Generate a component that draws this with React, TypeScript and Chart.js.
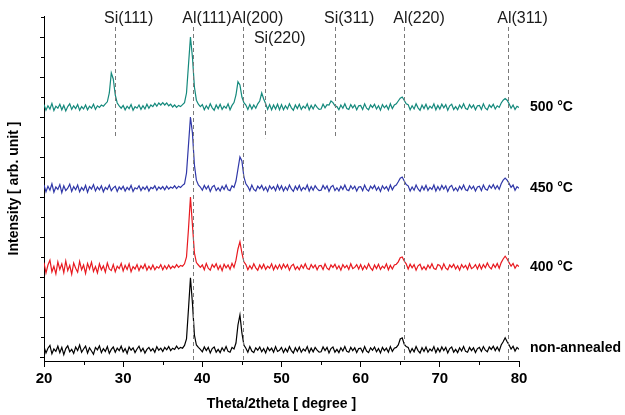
import React, { useEffect, useRef } from "react";
import { Chart, registerables } from "chart.js";
Chart.register(...registerables);

// 2theta scan: 20° to 80°, 0.25° step (241 points); one row = 5°
const twoTheta = Array.from({ length: 241 }, (_, i) => 20 + i * 0.25);

// intensities (arb. units, stacked offsets as plotted)
const nonAnnealed = [
  0.26, 0.1, 0.22, 0.29, 0.08, 0.2, 0.14, 0.27, 0.11, 0.24, 0.06, 0.21, 0.28, 0.13, 0.19, 0.09, 0.25, 0.16, 0.3, 0.12,
  0.2, 0.27, 0.1, 0.23, 0.15, 0.07, 0.24, 0.18, 0.28, 0.11, 0.21, 0.14, 0.26, 0.09, 0.19, 0.25, 0.12, 0.22, 0.16, 0.27,
  0.13, 0.21, 0.09, 0.25, 0.17, 0.23, 0.11, 0.2, 0.27, 0.14, 0.22, 0.1, 0.19, 0.24, 0.15, 0.21, 0.12, 0.26, 0.17, 0.22,
  0.14, 0.24, 0.18, 0.26, 0.16, 0.22, 0.19, 0.27, 0.2, 0.24, 0.22, 0.29, 0.45, 1.2, 1.98, 1.35, 0.55, 0.3, 0.24, 0.19,
  0.13, 0.25, 0.16, 0.24, 0.1, 0.21, 0.25, 0.12, 0.19, 0.11, 0.23, 0.15, 0.26, 0.14, 0.12, 0.24, 0.2, 0.35, 0.8, 1.05,
  0.6, 0.3, 0.22, 0.12, 0.26, 0.15, 0.11, 0.23, 0.17, 0.25, 0.13, 0.21, 0.1, 0.24, 0.16, 0.22, 0.12, 0.26, 0.14, 0.17,
  0.24, 0.11, 0.21, 0.13, 0.26, 0.16, 0.1, 0.23, 0.14, 0.25, 0.12, 0.2, 0.15, 0.26, 0.11, 0.22, 0.13, 0.24, 0.17, 0.12,
  0.13, 0.25, 0.16, 0.24, 0.1, 0.21, 0.25, 0.12, 0.19, 0.11, 0.23, 0.15, 0.26, 0.14, 0.12, 0.24, 0.16, 0.23, 0.11, 0.21,
  0.22, 0.12, 0.26, 0.15, 0.11, 0.23, 0.17, 0.25, 0.13, 0.21, 0.1, 0.24, 0.16, 0.22, 0.12, 0.26, 0.14, 0.22, 0.24, 0.3,
  0.45, 0.48, 0.32, 0.26, 0.24, 0.11, 0.21, 0.13, 0.26, 0.16, 0.1, 0.23, 0.14, 0.25, 0.12, 0.2, 0.15, 0.26, 0.11, 0.22,
  0.13, 0.25, 0.16, 0.24, 0.1, 0.21, 0.25, 0.12, 0.19, 0.11, 0.23, 0.15, 0.26, 0.14, 0.12, 0.24, 0.16, 0.23, 0.11, 0.21,
  0.24, 0.14, 0.26, 0.17, 0.13, 0.25, 0.19, 0.27, 0.16, 0.25, 0.15, 0.3, 0.38, 0.48, 0.38, 0.3, 0.2, 0.27, 0.15, 0.24,
  0.19,
];

const annealed400 = [
  2.36, 2.1, 2.3, 2.42, 2.13, 2.27, 2.08, 2.38, 2.19, 2.33, 2.11, 2.4, 2.16, 2.29, 2.07, 2.35, 2.22, 2.12, 2.39, 2.18,
  2.3, 2.09, 2.34, 2.2, 2.37, 2.14, 2.26, 2.1, 2.33, 2.18, 2.28, 2.12, 2.35, 2.2, 2.16, 2.31, 2.13, 2.27, 2.21, 2.34,
  2.15, 2.29, 2.19, 2.33, 2.13, 2.26, 2.2, 2.31, 2.16, 2.28, 2.21, 2.32, 2.17, 2.27, 2.19, 2.3, 2.18, 2.26, 2.22, 2.31,
  2.18, 2.28, 2.2, 2.3, 2.21, 2.27, 2.23, 2.31, 2.24, 2.29, 2.27, 2.33, 2.5, 3.2, 4.0, 3.3, 2.6, 2.36, 2.3, 2.24,
  2.3, 2.18, 2.34, 2.22, 2.17, 2.31, 2.24, 2.33, 2.19, 2.29, 2.16, 2.32, 2.23, 2.3, 2.19, 2.34, 2.24, 2.42, 2.7, 2.88,
  2.6, 2.38, 2.31, 2.18, 2.28, 2.2, 2.33, 2.23, 2.17, 2.3, 2.21, 2.32, 2.19, 2.27, 2.22, 2.33, 2.18, 2.29, 2.2, 2.31,
  2.2, 2.32, 2.23, 2.31, 2.17, 2.28, 2.32, 2.19, 2.26, 2.18, 2.3, 2.22, 2.33, 2.21, 2.19, 2.31, 2.23, 2.3, 2.18, 2.28,
  2.29, 2.19, 2.33, 2.22, 2.18, 2.3, 2.24, 2.32, 2.2, 2.28, 2.17, 2.31, 2.23, 2.29, 2.19, 2.33, 2.21, 2.24, 2.31, 2.2,
  2.31, 2.18, 2.28, 2.2, 2.33, 2.23, 2.17, 2.3, 2.21, 2.32, 2.19, 2.27, 2.22, 2.33, 2.18, 2.29, 2.2, 2.3, 2.32, 2.38,
  2.48, 2.5, 2.4, 2.33, 2.2, 2.32, 2.23, 2.31, 2.17, 2.28, 2.32, 2.19, 2.26, 2.18, 2.3, 2.22, 2.33, 2.21, 2.19, 2.31,
  2.29, 2.19, 2.33, 2.22, 2.18, 2.3, 2.24, 2.32, 2.2, 2.28, 2.17, 2.31, 2.23, 2.29, 2.19, 2.33, 2.21, 2.24, 2.31, 2.2,
  2.32, 2.2, 2.31, 2.23, 2.35, 2.25, 2.2, 2.32, 2.24, 2.34, 2.22, 2.36, 2.45, 2.52, 2.45, 2.36, 2.27, 2.34, 2.22, 2.3,
  2.26,
];

const annealed450 = [
  4.3, 4.13, 4.27, 4.17, 4.33, 4.12, 4.25, 4.19, 4.31, 4.11, 4.28, 4.16, 4.22, 4.32, 4.14, 4.26, 4.18, 4.3, 4.13, 4.24,
  4.17, 4.29, 4.12, 4.26, 4.2, 4.31, 4.15, 4.25, 4.18, 4.28, 4.13, 4.24, 4.19, 4.3, 4.16, 4.23, 4.27, 4.14, 4.25, 4.19,
  4.27, 4.15, 4.24, 4.18, 4.29, 4.14, 4.23, 4.2, 4.28, 4.16, 4.25, 4.19, 4.27, 4.15, 4.24, 4.21, 4.28, 4.17, 4.25, 4.2,
  4.26, 4.18, 4.27, 4.2, 4.25, 4.22, 4.28, 4.21, 4.27, 4.24, 4.29, 4.33, 4.6, 5.3, 6.0, 5.6, 4.8, 4.42, 4.3, 4.25,
  4.17, 4.29, 4.2, 4.28, 4.14, 4.25, 4.29, 4.16, 4.23, 4.15, 4.27, 4.19, 4.3, 4.18, 4.16, 4.28, 4.24, 4.4, 4.7, 5.0,
  4.9, 4.5, 4.33, 4.26, 4.16, 4.3, 4.19, 4.15, 4.27, 4.21, 4.29, 4.17, 4.25, 4.14, 4.28, 4.2, 4.26, 4.16, 4.3, 4.18,
  4.28, 4.15, 4.25, 4.17, 4.3, 4.2, 4.14, 4.27, 4.18, 4.29, 4.16, 4.24, 4.19, 4.3, 4.15, 4.26, 4.17, 4.28, 4.21, 4.16,
  4.17, 4.29, 4.2, 4.28, 4.14, 4.25, 4.29, 4.16, 4.23, 4.15, 4.27, 4.19, 4.3, 4.18, 4.16, 4.28, 4.2, 4.27, 4.15, 4.25,
  4.26, 4.16, 4.3, 4.19, 4.15, 4.27, 4.21, 4.29, 4.17, 4.25, 4.14, 4.28, 4.2, 4.26, 4.16, 4.3, 4.18, 4.27, 4.3, 4.38,
  4.47, 4.5, 4.4, 4.31, 4.28, 4.15, 4.25, 4.17, 4.3, 4.2, 4.14, 4.27, 4.18, 4.29, 4.16, 4.24, 4.19, 4.3, 4.15, 4.26,
  4.17, 4.29, 4.2, 4.28, 4.14, 4.25, 4.29, 4.16, 4.23, 4.15, 4.27, 4.19, 4.3, 4.18, 4.16, 4.28, 4.2, 4.27, 4.15, 4.25,
  4.27, 4.16, 4.3, 4.2, 4.17, 4.29, 4.22, 4.31, 4.2, 4.28, 4.19, 4.33, 4.42, 4.47, 4.42, 4.34, 4.24, 4.3, 4.17, 4.26,
  4.22,
];

const annealed500 = [
  6.31, 6.17, 6.28, 6.2, 6.34, 6.16, 6.27, 6.22, 6.32, 6.18, 6.29, 6.15, 6.26, 6.33, 6.19, 6.28, 6.21, 6.31, 6.17, 6.26,
  6.2, 6.3, 6.18, 6.27, 6.22, 6.32, 6.19, 6.28, 6.24, 6.3, 6.27, 6.33, 6.38, 6.6, 7.1, 6.95, 6.55, 6.35, 6.28, 6.22,
  6.29, 6.18, 6.27, 6.21, 6.31, 6.17, 6.26, 6.22, 6.3, 6.19, 6.28, 6.2, 6.32, 6.22, 6.3, 6.26, 6.34, 6.27, 6.35, 6.3,
  6.36, 6.3, 6.35, 6.28, 6.32, 6.25, 6.3, 6.24, 6.29, 6.26, 6.31, 6.36, 6.6, 7.3, 8.0, 7.5, 6.75, 6.42, 6.32, 6.26,
  6.31, 6.18, 6.28, 6.2, 6.33, 6.23, 6.17, 6.3, 6.21, 6.32, 6.19, 6.27, 6.22, 6.33, 6.18, 6.29, 6.36, 6.55, 6.88, 6.8,
  6.5, 6.36, 6.3, 6.19, 6.31, 6.2, 6.3, 6.22, 6.33, 6.4, 6.6, 6.45, 6.33, 6.19, 6.31, 6.18, 6.3, 6.2, 6.32, 6.18,
  6.31, 6.18, 6.28, 6.2, 6.33, 6.23, 6.17, 6.3, 6.21, 6.32, 6.19, 6.27, 6.22, 6.33, 6.18, 6.29, 6.2, 6.31, 6.24, 6.19,
  6.2, 6.32, 6.23, 6.31, 6.3, 6.4, 6.36, 6.28, 6.26, 6.18, 6.3, 6.22, 6.33, 6.21, 6.19, 6.31, 6.23, 6.3, 6.18, 6.28,
  6.29, 6.19, 6.33, 6.22, 6.18, 6.3, 6.24, 6.32, 6.2, 6.28, 6.17, 6.31, 6.23, 6.29, 6.19, 6.33, 6.21, 6.3, 6.33, 6.4,
  6.47, 6.5, 6.42, 6.33, 6.31, 6.18, 6.28, 6.2, 6.33, 6.23, 6.17, 6.3, 6.21, 6.32, 6.19, 6.27, 6.22, 6.33, 6.18, 6.29,
  6.2, 6.32, 6.23, 6.31, 6.17, 6.28, 6.32, 6.19, 6.26, 6.18, 6.3, 6.22, 6.33, 6.21, 6.19, 6.31, 6.23, 6.3, 6.18, 6.28,
  6.29, 6.19, 6.33, 6.22, 6.18, 6.3, 6.24, 6.32, 6.2, 6.28, 6.24, 6.35, 6.42, 6.46, 6.42, 6.33, 6.22, 6.3, 6.19, 6.27,
  6.24,
];

const seriesLabels = ["non-annealed", "400 °C", "450 °C", "500 °C"];
const seriesLevels = [0.22, 2.25, 4.22, 6.25];
const seriesColors = ["#000000", "#e8191f", "#2f37a8", "#14897c"];

// reflections
const reflNames = ["Si(111)", "Al(111)", "Al(200)", "Si(220)", "Si(311)", "Al(220)", "Al(311)"];
const reflPos = [28.97, 38.86, 45.1, 47.9, 56.76, 65.5, 78.65];
const reflTop = [8.25, 8.25, 8.25, 7.75, 8.25, 8.25, 8.25];
const reflBottom = [5.47, -0.1, -0.1, 5.47, 5.47, -0.1, -0.1];
const reflLabelLevel = [8.46, 8.46, 8.46, 7.96, 8.46, 8.46, 8.46];

// axes
const xMajorTicks = [20, 30, 40, 50, 60, 70, 80];
const xMinorTicks = [25, 35, 45, 55, 65, 75];
const yMajorTicks = [0, 1, 2, 3, 4, 5, 6, 7, 8];
const yMinorTicks = [0.5, 1.5, 2.5, 3.5, 4.5, 5.5, 6.5, 7.5, 8.5];

const FONT = "'Liberation Sans', Arial, sans-serif";

const overlay = {
  id: "overlay",
  afterDatasetsDraw(chart: any) {
    const { ctx, scales } = chart;
    const x = scales.x;
    const y = scales.y;
    ctx.save();
    ctx.strokeStyle = "#7a7a7a";
    ctx.lineWidth = 1;
    ctx.setLineDash([4, 3]);
    reflPos.forEach((p, i) => {
      const px = Math.round(x.getPixelForValue(p)) + 0.5;
      ctx.beginPath();
      ctx.moveTo(px, y.getPixelForValue(reflTop[i]));
      ctx.lineTo(px, y.getPixelForValue(reflBottom[i]));
      ctx.stroke();
    });
    ctx.setLineDash([]);
    ctx.restore();
  },
  afterDraw(chart: any) {
    const { ctx, chartArea, scales } = chart;
    const x = scales.x;
    const y = scales.y;
    ctx.save();
    ctx.strokeStyle = "#000";
    ctx.lineWidth = 1;
    ctx.beginPath();
    yMinorTicks.forEach((v) => {
      const py = Math.round(y.getPixelForValue(v)) + 0.5;
      ctx.moveTo(chartArea.left - 3, py);
      ctx.lineTo(chartArea.left, py);
    });
    xMinorTicks.forEach((v) => {
      const px = Math.round(x.getPixelForValue(v)) + 0.5;
      ctx.moveTo(px, chartArea.bottom);
      ctx.lineTo(px, chartArea.bottom + 4);
    });
    ctx.stroke();
    ctx.fillStyle = "#1a1a1a";
    ctx.font = `16px ${FONT}`;
    ctx.textAlign = "left";
    ctx.textBaseline = "middle";
    reflNames.forEach((n, i) => {
      const px = x.getPixelForValue(reflPos[i]) - 11;
      ctx.fillText(n, px, y.getPixelForValue(reflLabelLevel[i]));
    });
    ctx.fillStyle = "#000";
    ctx.font = `bold 14px ${FONT}`;
    seriesLabels.forEach((s, i) => {
      ctx.fillText(s, chartArea.right + 11, y.getPixelForValue(seriesLevels[i]));
    });
    ctx.restore();
  },
};

export default function App() {
  const ref = useRef<HTMLCanvasElement | null>(null);
  useEffect(() => {
    document.body.style.margin = "0";
    const series = [nonAnnealed, annealed400, annealed450, annealed500];
    const chart = new Chart(ref.current as HTMLCanvasElement, {
      type: "line",
      data: {
        datasets: series.map((s, i) => ({
          label: seriesLabels[i],
          data: twoTheta.map((t, k) => ({ x: t, y: s[k] })),
          borderColor: seriesColors[i],
          borderWidth: 1.2,
          pointRadius: 0,
          tension: 0,
          fill: false,
        })),
      },
      options: {
        responsive: false,
        animation: false,
        layout: { padding: { top: 16, right: 106, left: 0, bottom: 0 } },
        plugins: { legend: { display: false }, tooltip: { enabled: false } },
        scales: {
          x: {
            type: "linear",
            min: 20,
            max: 80,
            afterBuildTicks: (s: any) => {
              s.ticks = xMajorTicks.map((v) => ({ value: v }));
            },
            afterFit: (s: any) => {
              s.height = 54;
            },
            border: { display: true, color: "#000", width: 1 },
            grid: { drawOnChartArea: false, drawTicks: true, tickLength: 6, tickColor: "#000" },
            ticks: { color: "#000", font: { family: FONT, size: 15, weight: "bold" }, padding: 3, maxRotation: 0 },
            title: {
              display: true,
              text: "Theta/2theta [ degree ]",
              color: "#000",
              font: { family: FONT, size: 14, weight: "bold" },
              padding: { top: 0, bottom: 2 },
            },
          },
          y: {
            type: "linear",
            min: -0.1,
            max: 8.525,
            afterBuildTicks: (s: any) => {
              s.ticks = yMajorTicks.map((v) => ({ value: v }));
            },
            afterFit: (s: any) => {
              s.width = 44;
            },
            border: { display: true, color: "#000", width: 1 },
            grid: { drawOnChartArea: false, drawTicks: true, tickLength: 4, tickColor: "#000" },
            ticks: { display: false },
            title: {
              display: true,
              text: "Intensity [ arb. unit ]",
              color: "#000",
              font: { family: FONT, size: 14, weight: "bold" },
              padding: { top: 6, bottom: 0 },
            },
          },
        },
      },
      plugins: [overlay],
    });
    return () => chart.destroy();
  }, []);
  return <canvas ref={ref} width={625} height={415} style={{ display: "block" }} />;
}
